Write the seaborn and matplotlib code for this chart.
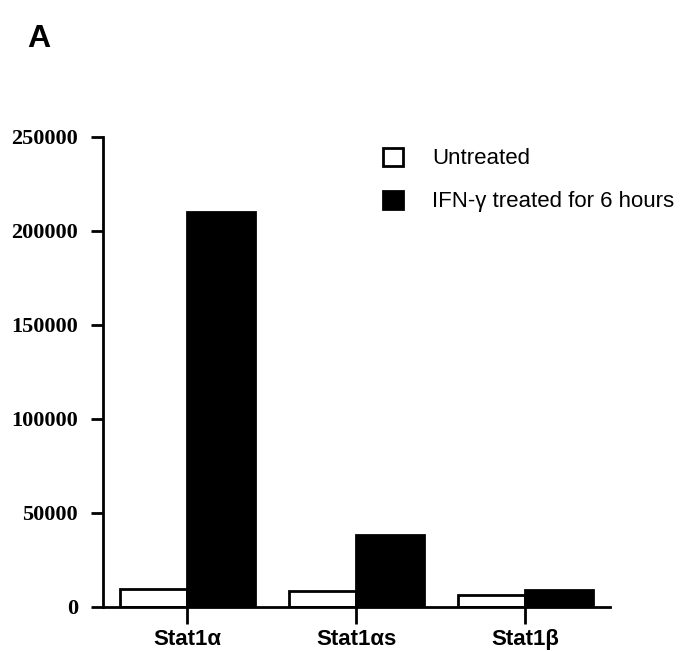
import pandas as pd
import matplotlib
matplotlib.use("Agg")
import matplotlib.pyplot as plt
import seaborn as sns

# values
proteins = ["Stat1α", "Stat1αs", "Stat1β"]
conditions = ["Untreated", "IFN-γ treated for 6 hours"]
untreated = [9500, 8500, 6500]
ifn_treated = [210000, 38500, 9000]
yticks = [0, 50000, 100000, 150000, 200000, 250000]

df = pd.DataFrame({
    "protein": proteins * 2,
    "condition": [conditions[0]] * 3 + [conditions[1]] * 3,
    "value": untreated + ifn_treated,
})

sns.set_style("white")
plt.rcParams["font.family"] = ["Liberation Sans", "DejaVu Sans"]
plt.rcParams["text.color"] = "black"
plt.rcParams["xtick.color"] = "black"
plt.rcParams["ytick.color"] = "black"

fig = plt.figure(figsize=(6.81, 6.51), dpi=100)
ax = fig.add_axes([0.151, 0.0676, 0.7445, 0.722])

sns.barplot(data=df, x="protein", y="value", hue="condition",
            palette={conditions[0]: "white", conditions[1]: "black"},
            edgecolor="black", linewidth=2, width=0.8, ax=ax)

ax.set_xlim(-0.5, 2.5)
ax.set_ylim(0, 250000)
ax.set_yticks(yticks)
ax.set_yticklabels([str(v) for v in yticks], family="Liberation Serif",
                   fontweight="bold", fontsize=16)
ax.set_xticks(range(len(proteins)))
ax.set_xticklabels(proteins, fontweight="bold", fontsize=16)
ax.set_xlabel("")
ax.set_ylabel("")

for s in ["top", "right"]:
    ax.spines[s].set_visible(False)
for s in ["left", "bottom"]:
    ax.spines[s].set_linewidth(2)
    ax.spines[s].set_color("black")
ax.tick_params(axis="y", direction="out", length=9, width=2, left=True, pad=9)
ax.tick_params(axis="x", direction="out", length=12, width=2, bottom=True, pad=4)

handles, labels = ax.get_legend_handles_labels()
ax.legend(handles, labels, loc="upper left", bbox_to_anchor=(0.550, 0.787),
          bbox_transform=fig.transFigure, frameon=False, fontsize=16,
          handlelength=0.9, handleheight=0.9, handletextpad=1.3,
          labelspacing=0.95, borderaxespad=0)

fig.text(0.04, 0.928, "A", fontsize=23, fontweight="bold")

fig.savefig("out.png", dpi=100)
